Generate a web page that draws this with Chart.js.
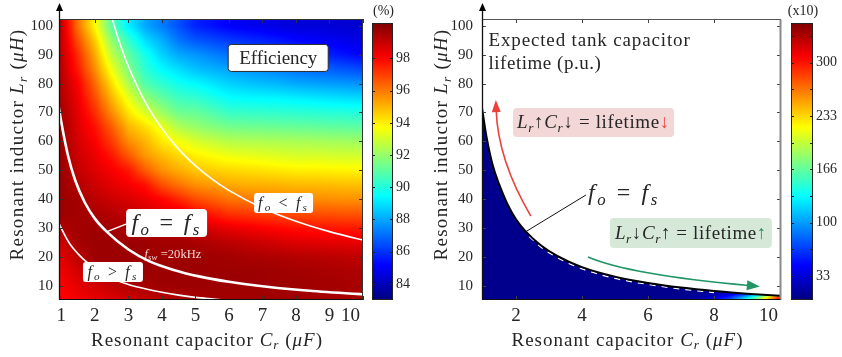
<!DOCTYPE html>
<html>
<head>
<meta charset="utf-8">
<script src="https://cdn.jsdelivr.net/npm/chart.js@4.4.1/dist/chart.umd.min.js"></script>
<style>
  html, body { margin: 0; padding: 0; background: #fff; width: 842px; height: 357px; overflow: hidden; }
  canvas { position: absolute; top: 0; }
</style>
</head>
<body>
<canvas id="effPlot" width="368" height="357" style="left:0px"></canvas>
<canvas id="effBar" width="52" height="357" style="left:368px"></canvas>
<canvas id="lifePlot" width="366" height="357" style="left:420px"></canvas>
<canvas id="lifeBar" width="56" height="357" style="left:786px"></canvas>
<script>
// ---------- tick values ----------
const capTicksEff = [1, 2, 3, 4, 5, 6, 7, 8, 9, 10];
const capTicksLife = [2, 4, 6, 8, 10];
const indTicks = [10, 20, 30, 40, 50, 60, 70, 80, 90, 100];
const effBarTicks = [84, 86, 88, 90, 92, 94, 96, 98];
const lifeBarTicks = [33.3, 66.7, 100, 133.3, 166.7, 200, 233.3, 266.7, 300, 333.3];
const lifeBarLabels = ['33', '', '100', '', '166', '', '233', '', '300', ''];

// ---------- efficiency map (%): one row per Lr (uH), one column per Cr (uF) ----------
const effGridC = [1.0, 1.5, 2.0, 2.5, 3.0, 3.5, 4.0, 4.5, 5.0, 5.5, 6.0, 6.5, 7.0, 7.5, 8.0, 8.5, 9.0, 9.5, 10.0];
const effGridL = [100, 95, 90, 85, 80, 75, 70, 65, 60, 55, 50, 45, 40, 35, 30, 25, 20, 15, 10, 5];
const effGrid = [
  [99.0, 96.1, 93.8, 91.0, 89.2, 88.0, 87.25, 86.5, 85.7, 85.4, 85.1, 84.95, 84.8, 84.65, 84.5, 84.5, 84.45, 84.4, 84.4],
  [99.05, 96.7, 94.6, 91.9, 90.3, 88.9, 88.1, 87.1, 86.6, 86.35, 86.1, 85.9, 85.7, 85.5, 85.25, 85.1, 84.95, 84.8, 84.7],
  [99.1, 97.3, 95.2, 92.7, 91.1, 89.8, 88.7, 88.0, 87.7, 87.35, 87.05, 86.8, 86.6, 86.4, 86.15, 85.9, 85.65, 85.4, 85.15],
  [99.2, 97.6, 95.7, 93.5, 91.6, 90.2, 89.4, 88.9, 88.4, 88.15, 87.9, 87.7, 87.5, 87.3, 87.05, 86.9, 86.7, 86.55, 86.4],
  [99.3, 98.1, 96.3, 94.3, 92.4, 90.8, 90.2, 89.7, 89.4, 89.05, 88.7, 88.5, 88.35, 88.2, 88.0, 87.9, 87.8, 87.7, 87.6],
  [99.4, 98.3, 96.8, 95.0, 93.4, 91.9, 91.1, 90.5, 90.3, 89.9, 89.5, 89.4, 89.35, 89.3, 89.2, 89.1, 89.0, 88.9, 88.85],
  [99.5, 98.5, 97.3, 95.7, 94.2, 93.1, 92.1, 91.3, 91.2, 90.8, 90.4, 90.35, 90.3, 90.25, 90.2, 90.15, 90.1, 90.05, 90.0],
  [99.7, 98.6, 97.8, 96.5, 95.0, 94.3, 93.4, 92.4, 92.0, 91.7, 91.4, 91.35, 91.3, 91.25, 91.2, 91.15, 91.1, 91.05, 91.0],
  [99.7, 98.75, 98.1, 97.1, 95.7, 95.0, 94.1, 93.6, 93.1, 92.8, 92.5, 92.45, 92.4, 92.35, 92.3, 92.25, 92.2, 92.15, 92.1],
  [99.7, 98.9, 98.4, 97.7, 96.6, 95.5, 94.9, 94.4, 94.0, 93.75, 93.5, 93.4, 93.3, 93.2, 93.1, 93.1, 93.05, 93.0, 93.0],
  [99.7, 99.1, 98.6, 98.2, 97.7, 96.5, 95.6, 95.1, 94.7, 94.55, 94.4, 94.3, 94.2, 94.1, 94.0, 94.0, 93.95, 93.9, 93.9],
  [99.7, 99.3, 98.9, 98.5, 98.2, 97.8, 96.7, 96.1, 95.6, 95.4, 95.2, 95.1, 95.05, 95.0, 94.9, 94.9, 94.85, 94.8, 94.8],
  [99.7, 99.6, 99.2, 98.9, 98.7, 98.4, 98.0, 97.4, 96.8, 96.45, 96.1, 96.0, 95.9, 95.8, 95.7, 95.7, 95.65, 95.6, 95.6],
  [99.7, 99.6, 99.5, 99.3, 99.1, 98.8, 98.6, 98.5, 98.0, 97.6, 97.2, 97.1, 96.95, 96.8, 96.7, 96.7, 96.65, 96.6, 96.6],
  [99.4, 99.6, 99.7, 99.6, 99.5, 99.4, 99.2, 99.1, 98.9, 98.65, 98.4, 98.25, 98.1, 97.95, 97.8, 97.75, 97.7, 97.65, 97.6],
  [98.9, 99.6, 99.7, 99.7, 99.7, 99.7, 99.6, 99.6, 99.5, 99.35, 99.2, 99.05, 98.9, 98.75, 98.6, 98.55, 98.5, 98.45, 98.4],
  [98.5, 99.2, 99.7, 99.7, 99.7, 99.7, 99.7, 99.7, 99.7, 99.65, 99.6, 99.5, 99.45, 99.4, 99.3, 99.25, 99.2, 99.15, 99.1],
  [98.3, 98.8, 99.3, 99.6, 99.7, 99.7, 99.7, 99.7, 99.7, 99.7, 99.7, 99.7, 99.7, 99.65, 99.6, 99.55, 99.5, 99.45, 99.4],
  [98.1, 98.5, 98.8, 99.1, 99.4, 99.6, 99.7, 99.7, 99.7, 99.7, 99.7, 99.7, 99.7, 99.7, 99.7, 99.65, 99.6, 99.55, 99.5],
  [98.0, 98.2, 98.4, 98.6, 98.8, 99.0, 99.2, 99.4, 99.5, 99.6, 99.6, 99.6, 99.6, 99.6, 99.6, 99.6, 99.55, 99.5, 99.5]
];

// ---------- capacitor lifetime map (p.u., x10) below the resonance curve ----------
const lifeGridC = [1.0, 7.0, 7.5, 8.0, 8.5, 9.0, 9.25, 9.5, 9.75, 10.0, 10.25];
const lifeGridL = [5, 6, 7, 8, 9];
const lifeGrid = [
  [8, 10, 18, 40, 80, 140, 180, 225, 270, 320, 345],
  [8, 9, 14, 30, 60, 115, 150, 195, 245, 295, 325],
  [8, 8, 10, 18, 35, 70, 95, 130, 170, 210, 240],
  [8, 8, 8, 11, 18, 35, 50, 70, 90, 110, 130],
  [8, 8, 8, 8, 8, 8, 8, 8, 8, 8, 8]
];

// ---------- resonance contours (Cr in uF, Lr in uH) ----------
const fEqEffC = [0.9, 0.93, 1.0, 1.2, 1.41, 1.7, 2.0, 2.36, 3.0, 3.65, 4.3, 5.14, 6.0, 7.13, 8.5, 9.96, 10.3];
const fEqEffL = [73.5, 71.4, 66.5, 55.0, 46.6, 38.8, 33.2, 28.6, 22.5, 18.3, 15.6, 13.1, 11.3, 9.6, 8.1, 7.0, 6.8];
const fLowC = [0.9, 0.93, 1.0, 1.25, 1.5, 1.75, 2.06, 2.5, 3.0, 3.5, 4.0, 4.5, 5.0, 5.54, 6.0];
const fLowL = [32.5, 31.6, 29.8, 24.5, 21.0, 18.2, 16.0, 12.5, 10.4, 8.9, 7.7, 6.7, 5.9, 5.3, 4.8];
const fHighC = [2.45, 2.52, 2.75, 3.0, 3.5, 4.0, 4.5, 5.0, 5.52, 6.0, 7.0, 8.0, 9.0, 10.0, 10.3];
const fHighL = [105.3, 102.4, 93.8, 86.0, 73.7, 64.5, 57.3, 51.6, 46.7, 43.0, 36.9, 32.3, 28.7, 25.8, 25.0];
const fEqLifeC = [0.9, 0.97, 1.1, 1.3, 1.5, 1.75, 2.0, 2.3, 2.75, 3.25, 4.0, 5.0, 6.0, 7.0, 8.0, 9.0, 10.0, 10.3];
const fEqLifeL = [76.0, 71.5, 62.0, 51.5, 44.8, 38.0, 33.0, 28.7, 24.0, 20.3, 16.4, 13.1, 10.9, 9.3, 8.1, 7.2, 6.5, 6.3];
const edgeLifeC = [2.4, 2.75, 3.25, 4.0, 5.0, 6.0, 7.0, 8.0];
const edgeLifeL = [27.0, 23.4, 19.7, 15.8, 12.5, 10.4, 8.8, 7.6];

// ---------- ranges ----------
const EFF_MIN = 83.0, EFF_MAX = 100.2;
const LIFE_MIN = 3.3, LIFE_MAX = 349.5;

const SERIF = '"Liberation Serif", "DejaVu Serif", serif';
const INK = '#262626';

// ---------- helpers ----------
function jet(t) {
  t = Math.max(0, Math.min(1, t));
  const f = v => Math.max(0, Math.min(1, v)) * 255;
  return [f(1.5 - Math.abs(4 * t - 3)), f(1.5 - Math.abs(4 * t - 2)), f(1.5 - Math.abs(4 * t - 1))];
}
function findSeg(a, v) {
  const n = a.length, asc = a[n - 1] > a[0];
  if (asc ? v <= a[0] : v >= a[0]) return [0, 0];
  if (asc ? v >= a[n - 1] : v <= a[n - 1]) return [n - 2, 1];
  for (let i = 0; i < n - 1; i++) {
    const lo = a[i], hi = a[i + 1];
    if ((v - lo) * (v - hi) <= 0) return [i, (v - lo) / (hi - lo)];
  }
  return [n - 2, 1];
}
function sampleGrid(gx, gy, g, x, y) {
  const [ix, tx] = findSeg(gx, x), [iy, ty] = findSeg(gy, y);
  const top = g[iy][ix] * (1 - tx) + g[iy][ix + 1] * tx;
  const bot = g[iy + 1][ix] * (1 - tx) + g[iy + 1][ix + 1] * tx;
  return top * (1 - ty) + bot * ty;
}
const pts = (cs, ls) => cs.map((c, i) => ({ x: c, y: ls[i] }));

function setFont(ctx, p, size) {
  const fs = p.sub ? size * 0.7 : size;
  ctx.font = (p.it ? 'italic ' : '') + fs.toFixed(1) + 'px ' + SERIF;
}
function richWidth(ctx, parts, size) {
  let w = 0;
  for (const p of parts) { setFont(ctx, p, size); w += ctx.measureText(p.t).width; }
  return w;
}
function drawRich(ctx, parts, x, y, size, opt = {}) {
  ctx.save();
  ctx.letterSpacing = '0px';
  let w = richWidth(ctx, parts, size);
  if (opt.width) {
    const n = parts.reduce((k, p) => k + [...p.t].length, 0);
    ctx.letterSpacing = ((opt.width - w) / n).toFixed(2) + 'px';
    w = richWidth(ctx, parts, size);
  }
  let cx = opt.align === 'center' ? x - w / 2 : opt.align === 'right' ? x - w : x;
  ctx.textAlign = 'left';
  ctx.textBaseline = 'alphabetic';
  for (const p of parts) {
    setFont(ctx, p, size);
    ctx.fillStyle = p.c || opt.color || INK;
    ctx.fillText(p.t, cx, y + (p.sub ? size * 0.2 : 0));
    cx += ctx.measureText(p.t).width;
  }
  ctx.restore();
}
function rrect(ctx, x, y, w, h, r) {
  ctx.beginPath();
  ctx.moveTo(x + r, y);
  ctx.arcTo(x + w, y, x + w, y + h, r);
  ctx.arcTo(x + w, y + h, x, y + h, r);
  ctx.arcTo(x, y + h, x, y, r);
  ctx.arcTo(x, y, x + w, y, r);
  ctx.closePath();
}

// ---------- text pieces ----------
const CAP_TITLE = [{ t: 'Resonant capacitor ' }, { t: 'C', it: 1 }, { t: 'r', it: 1, sub: 1 }, { t: ' (' }, { t: 'μF', it: 1 }, { t: ')' }];
const IND_TITLE = [{ t: 'Resonant inductor ' }, { t: 'L', it: 1 }, { t: 'r', it: 1, sub: 1 }, { t: ' (' }, { t: 'μH', it: 1 }, { t: ')' }];
const F_EQ = [{ t: 'f', it: 1 }, { t: 'o', it: 1, sub: 1 }, { t: ' = ' }, { t: 'f', it: 1 }, { t: 's', it: 1, sub: 1 }];
const F_LT = [{ t: 'f', it: 1 }, { t: 'o', it: 1, sub: 1 }, { t: ' < ' }, { t: 'f', it: 1 }, { t: 's', it: 1, sub: 1 }];
const F_GT = [{ t: 'f', it: 1 }, { t: 'o', it: 1, sub: 1 }, { t: ' > ' }, { t: 'f', it: 1 }, { t: 's', it: 1, sub: 1 }];
const F_SW = [{ t: 'f', it: 1 }, { t: 'sw', it: 1, sub: 1 }, { t: ' =20kHz' }];
const RED = 'rgb(236,64,60)', GREEN = 'rgb(32,150,100)';
const UP_RULE = [{ t: 'L', it: 1 }, { t: 'r', it: 1, sub: 1 }, { t: '↑' }, { t: 'C', it: 1 }, { t: 'r', it: 1, sub: 1 }, { t: '↓' }, { t: ' = lifetime' }, { t: '↓', c: RED }];
const DOWN_RULE = [{ t: 'L', it: 1 }, { t: 'r', it: 1, sub: 1 }, { t: '↓' }, { t: 'C', it: 1 }, { t: 'r', it: 1, sub: 1 }, { t: '↑' }, { t: ' = lifetime' }, { t: '↑', c: GREEN }];

// ---------- plugins ----------
function heatLayer(cfg) {
  return {
    id: 'heat',
    beforeDatasetsDraw(chart) {
      const { ctx, chartArea: a, scales: { x, y } } = chart;
      const w = Math.ceil(a.right - a.left), h = Math.ceil(a.bottom - a.top);
      const off = document.createElement('canvas');
      off.width = w; off.height = h;
      const octx = off.getContext('2d');
      const img = octx.createImageData(w, h);
      for (let j = 0; j < h; j++) {
        const L = y.getValueForPixel(a.top + j + 0.5);
        for (let i = 0; i < w; i++) {
          const C = x.getValueForPixel(a.left + i + 0.5);
          const v = sampleGrid(cfg.gx, cfg.gy, cfg.grid, C, L);
          const c = jet((v - cfg.min) / (cfg.max - cfg.min));
          const k = 4 * (j * w + i);
          img.data[k] = c[0]; img.data[k + 1] = c[1]; img.data[k + 2] = c[2]; img.data[k + 3] = 255;
        }
      }
      octx.putImageData(img, 0, 0);
      ctx.save();
      ctx.beginPath();
      ctx.rect(a.left, a.top, a.right - a.left, a.bottom - a.top);
      ctx.clip();
      if (cfg.below != null) {
        // keep only the part under the resonance curve
        const meta = chart.getDatasetMeta(cfg.below);
        const line = meta.dataset;
        line.updateControlPoints(a, 'x');
        const p = meta.data;
        ctx.beginPath();
        line.path(ctx);
        ctx.lineTo(p[p.length - 1].x, a.bottom + 2);
        ctx.lineTo(p[0].x, a.bottom + 2);
        ctx.closePath();
        ctx.clip();
      }
      ctx.drawImage(off, a.left, a.top);
      ctx.restore();
    }
  };
}

function notesLayer(notes) {
  return {
    id: 'notes',
    afterDatasetsDraw(chart) {
      const { ctx, scales: { x, y } } = chart;
      const P = ([c, l]) => ({ x: x.getPixelForValue(c), y: y.getPixelForValue(l) });
      ctx.save();
      for (const n of notes) {
        if (n.kind === 'line') {
          const p0 = P(n.from), p1 = P(n.to);
          ctx.strokeStyle = n.color; ctx.lineWidth = n.width;
          ctx.beginPath(); ctx.moveTo(p0.x, p0.y); ctx.lineTo(p1.x, p1.y); ctx.stroke();
        } else if (n.kind === 'box') {
          const c = P(n.at);
          rrect(ctx, c.x - n.w / 2, c.y - n.h / 2, n.w, n.h, n.r);
          ctx.fillStyle = n.fill; ctx.fill();
          if (n.stroke) { ctx.strokeStyle = n.stroke; ctx.lineWidth = 1; ctx.stroke(); }
          drawRich(ctx, n.text, c.x, c.y + n.size * 0.3, n.size, { align: 'center', width: n.width });
        } else if (n.kind === 'text') {
          const c = P(n.at);
          drawRich(ctx, n.text, c.x, c.y, n.size, { width: n.width, color: n.color });
        } else if (n.kind === 'arrow') {
          const s = P(n.from), v = P(n.via), t = P(n.to);
          const dx = t.x - v.x, dy = t.y - v.y, d = Math.hypot(dx, dy);
          const ux = dx / d, uy = dy / d;
          const [hl, hw] = n.head;
          const bx = t.x - ux * hl, by = t.y - uy * hl;
          ctx.strokeStyle = n.color; ctx.fillStyle = n.color; ctx.lineWidth = n.width;
          ctx.beginPath(); ctx.moveTo(s.x, s.y); ctx.quadraticCurveTo(v.x, v.y, bx + ux * 2, by + uy * 2); ctx.stroke();
          ctx.beginPath();
          ctx.moveTo(t.x, t.y);
          ctx.lineTo(bx - uy * hw / 2, by + ux * hw / 2);
          ctx.lineTo(bx + uy * hw / 2, by - ux * hw / 2);
          ctx.closePath(); ctx.fill();
        }
      }
      ctx.restore();
    }
  };
}

function frameLayer(cfg) {
  return {
    id: 'frame',
    afterDraw(chart) {
      const { ctx, chartArea: a, scales: { x, y } } = chart;
      ctx.save();
      // inward tick marks
      ctx.strokeStyle = cfg.tickColor; ctx.lineWidth = 1;
      ctx.beginPath();
      for (const t of x.ticks) {
        const px = Math.round(x.getPixelForValue(t.value)) + 0.5;
        ctx.moveTo(px, a.bottom); ctx.lineTo(px, a.bottom - 4);
        ctx.moveTo(px, a.top); ctx.lineTo(px, a.top + 4);
      }
      for (const t of y.ticks) {
        const py = Math.round(y.getPixelForValue(t.value)) + 0.5;
        ctx.moveTo(a.left, py); ctx.lineTo(a.left + 4, py);
        ctx.moveTo(a.right, py); ctx.lineTo(a.right - 4, py);
      }
      ctx.stroke();
      // box edges
      const L = Math.round(a.left) + 0.5, R = Math.round(a.right) - 0.5, T = Math.round(a.top) + 0.5, B = Math.round(a.bottom) - 0.5;
      ctx.lineWidth = 1;
      ctx.strokeStyle = cfg.topColor;
      ctx.beginPath(); ctx.moveTo(L, T); ctx.lineTo(R, T); ctx.stroke();
      ctx.strokeStyle = cfg.rightColor; ctx.lineWidth = cfg.rightWidth;
      ctx.beginPath(); ctx.moveTo(R, T); ctx.lineTo(R, B + 0.5); ctx.stroke();
      ctx.strokeStyle = '#111'; ctx.lineWidth = 1;
      ctx.beginPath(); ctx.moveTo(L, B); ctx.lineTo(R, B); ctx.stroke();
      // vertical axis with arrow head
      ctx.lineWidth = 1.3;
      ctx.beginPath(); ctx.moveTo(L, B); ctx.lineTo(L, 9); ctx.stroke();
      ctx.fillStyle = '#000';
      ctx.beginPath(); ctx.moveTo(L, 3); ctx.lineTo(L - 3.5, 11); ctx.lineTo(L + 3.5, 11); ctx.closePath(); ctx.fill();
      // tick labels
      ctx.fillStyle = INK;
      ctx.font = '15px ' + SERIF;
      ctx.textAlign = 'right'; ctx.textBaseline = 'middle';
      for (const t of y.ticks) ctx.fillText(String(t.value), a.left - cfg.yGap, y.getPixelForValue(t.value));
      ctx.font = '19px ' + SERIF;
      ctx.textAlign = 'center';
      for (const t of x.ticks) {
        const s = String(t.value), w = ctx.measureText(s).width;
        const px = Math.min(x.getPixelForValue(t.value), a.right - w / 2 - 3);
        ctx.fillText(s, px, a.bottom + 16);
      }
      // axis titles
      drawRich(ctx, CAP_TITLE, (a.left + a.right) / 2 - 4, a.bottom + 45.5, 19, { align: 'center', width: 232 });
      ctx.save();
      ctx.translate(cfg.yTitleX, (a.top + a.bottom) / 2 - 15);
      ctx.rotate(-Math.PI / 2);
      drawRich(ctx, IND_TITLE, 0, 0, 19, { align: 'center', width: 232 });
      ctx.restore();
      ctx.restore();
    }
  };
}

function barLayer(cfg) {
  return {
    id: 'bar',
    afterDraw(chart) {
      const { ctx, chartArea: a, scales: { y } } = chart;
      ctx.save();
      for (let yy = Math.floor(a.top); yy < Math.ceil(a.bottom); yy++) {
        const v = y.getValueForPixel(yy + 0.5);
        const c = jet((v - cfg.min) / (cfg.max - cfg.min));
        ctx.fillStyle = `rgb(${c[0] | 0},${c[1] | 0},${c[2] | 0})`;
        ctx.fillRect(a.left, yy, a.right - a.left, 1);
      }
      ctx.strokeStyle = '#222'; ctx.lineWidth = 1;
      ctx.strokeRect(Math.round(a.left) + 0.5, Math.round(a.top) + 0.5, Math.round(a.right - a.left) - 1, Math.round(a.bottom - a.top) - 1);
      ctx.beginPath();
      for (const t of y.ticks) {
        const py = Math.round(y.getPixelForValue(t.value)) + 0.5;
        ctx.moveTo(a.left, py); ctx.lineTo(a.left + 3, py);
        ctx.moveTo(a.right, py); ctx.lineTo(a.right - 3, py);
      }
      ctx.stroke();
      ctx.fillStyle = INK;
      ctx.font = '14px ' + SERIF;
      ctx.textAlign = 'left'; ctx.textBaseline = 'middle';
      y.ticks.forEach((t, i) => {
        const s = cfg.labels ? cfg.labels[i] : String(t.value);
        if (s) ctx.fillText(s, a.right + 3, y.getPixelForValue(t.value));
      });
      ctx.textAlign = 'center';
      ctx.fillText(cfg.unit, (a.left + a.right) / 2 + 1, a.top - 12);
      ctx.restore();
    }
  };
}

// ---------- chart factories ----------
function axisOpts(min, max, ticks, fit) {
  return {
    type: 'linear', min, max,
    afterBuildTicks: s => { s.ticks = ticks.map(v => ({ value: v })); },
    afterFit: fit,
    grid: { display: false }, border: { display: false }, ticks: { display: false }
  };
}
const baseOpts = {
  responsive: false, animation: false, events: [],
  plugins: { legend: { display: false }, tooltip: { enabled: false } }
};

new Chart(document.getElementById('effPlot'), {
  type: 'line',
  data: {
    datasets: [
      { data: pts(fEqEffC, fEqEffL), borderColor: '#fff', borderWidth: 2.6, pointRadius: 0, cubicInterpolationMode: 'monotone' },
      { data: pts(fHighC, fHighL), borderColor: '#fff', borderWidth: 1.6, pointRadius: 0, cubicInterpolationMode: 'monotone' },
      { data: pts(fLowC, fLowL), borderColor: '#fff', borderWidth: 1.6, pointRadius: 0, cubicInterpolationMode: 'monotone' }
    ]
  },
  options: {
    ...baseOpts,
    layout: { padding: { left: 0, top: 19, right: 5, bottom: 0 } },
    scales: {
      x: axisOpts(0.93, 10.0, capTicksEff, s => { s.height = 57; s.paddingLeft = 0; s.paddingRight = 0; }),
      y: axisOpts(5, 102.4, indTicks, s => { s.width = 59; s.paddingTop = 0; s.paddingBottom = 0; })
    }
  },
  plugins: [
    heatLayer({ gx: effGridC, gy: effGridL, grid: effGrid, min: EFF_MIN, max: EFF_MAX }),
    notesLayer([
      { kind: 'line', from: [2.36, 28.7], to: [2.93, 31.3], color: '#fff', width: 1.6 },
      { kind: 'box', at: [7.47, 88.9], w: 100, h: 27, r: 3, fill: '#fff', stroke: '#2a2a2a', text: [{ t: 'Efficiency' }], size: 19, width: 78 },
      { kind: 'box', at: [4.14, 31.7], w: 81, h: 28, r: 4, fill: '#fff', text: F_EQ, size: 24, width: 70 },
      { kind: 'box', at: [7.63, 38.6], w: 59, h: 20, r: 3, fill: '#fff', text: F_LT, size: 16, width: 51 },
      { kind: 'box', at: [2.54, 14.7], w: 60, h: 20, r: 3, fill: '#fff', text: F_GT, size: 16, width: 51 },
      { kind: 'text', at: [3.48, 19.7], text: F_SW, size: 12.5, width: 57, color: 'rgba(255,236,236,0.9)' }
    ]),
    frameLayer({ tickColor: '#333', topColor: '#333', rightColor: '#333', rightWidth: 1, yGap: 6, yTitleX: 23 })
  ]
});

new Chart(document.getElementById('effBar'), {
  type: 'line',
  data: { datasets: [] },
  options: {
    ...baseOpts,
    layout: { padding: { left: 4, top: 23, right: 0, bottom: 57 } },
    scales: {
      x: { type: 'linear', display: false },
      y: { ...axisOpts(EFF_MIN, EFF_MAX, effBarTicks, s => { s.width = 27; s.paddingTop = 0; s.paddingBottom = 0; }), position: 'right' }
    }
  },
  plugins: [barLayer({ min: EFF_MIN, max: EFF_MAX, unit: '(%)' })]
});

new Chart(document.getElementById('lifePlot'), {
  type: 'line',
  data: {
    datasets: [
      { data: pts(fEqLifeC, fEqLifeL), borderColor: '#000', borderWidth: 2, pointRadius: 0, cubicInterpolationMode: 'monotone' },
      { data: pts(edgeLifeC, edgeLifeL), borderColor: '#fff', borderWidth: 1.3, borderDash: [6, 6], pointRadius: 0, cubicInterpolationMode: 'monotone' }
    ]
  },
  options: {
    ...baseOpts,
    layout: { padding: { left: 0, top: 19, right: 5, bottom: 0 } },
    scales: {
      x: axisOpts(0.97, 10.03, capTicksLife, s => { s.height = 57; s.paddingLeft = 0; s.paddingRight = 0; }),
      y: axisOpts(5, 102.4, indTicks, s => { s.width = 62; s.paddingTop = 0; s.paddingBottom = 0; })
    }
  },
  plugins: [
    heatLayer({ gx: lifeGridC, gy: lifeGridL, grid: lifeGrid, min: LIFE_MIN, max: LIFE_MAX, below: 0 }),
    notesLayer([
      { kind: 'text', at: [1.167, 93.2], text: [{ t: 'Expected tank capacitor' }], size: 19, width: 202 },
      { kind: 'text', at: [1.167, 85.2], text: [{ t: 'lifetime (p.u.)' }], size: 19, width: 113 },
      { kind: 'box', at: [4.35, 66.5], w: 161, h: 29, r: 4, fill: 'rgb(243,214,214)', text: UP_RULE, size: 19, width: 153 },
      { kind: 'box', at: [7.30, 28.2], w: 162, h: 30, r: 4, fill: 'rgb(214,233,216)', text: DOWN_RULE, size: 19, width: 152 },
      { kind: 'line', from: [2.30, 28.7], to: [4.12, 41.4], color: '#111', width: 1 },
      { kind: 'text', at: [4.18, 39.7], text: F_EQ, size: 24, width: 72 },
      { kind: 'arrow', from: [2.45, 34.1], via: [1.45, 53.5], to: [1.39, 74.3], color: RED, width: 1.6, head: [12, 9] },
      { kind: 'arrow', from: [4.18, 19.9], via: [5.45, 13.7], to: [9.39, 9.7], color: GREEN, width: 1.6, head: [13, 10] }
    ]),
    frameLayer({ tickColor: '#444', topColor: '#555', rightColor: '#8a8a8a', rightWidth: 2, yGap: 9, yTitleX: 27 })
  ]
});

new Chart(document.getElementById('lifeBar'), {
  type: 'line',
  data: { datasets: [] },
  options: {
    ...baseOpts,
    layout: { padding: { left: 5, top: 23, right: 0, bottom: 57 } },
    scales: {
      x: { type: 'linear', display: false },
      y: { ...axisOpts(LIFE_MIN, LIFE_MAX, lifeBarTicks, s => { s.width = 29; s.paddingTop = 0; s.paddingBottom = 0; }), position: 'right' }
    }
  },
  plugins: [barLayer({ min: LIFE_MIN, max: LIFE_MAX, unit: '(x10)', labels: lifeBarLabels })]
});
</script>
</body>
</html>
